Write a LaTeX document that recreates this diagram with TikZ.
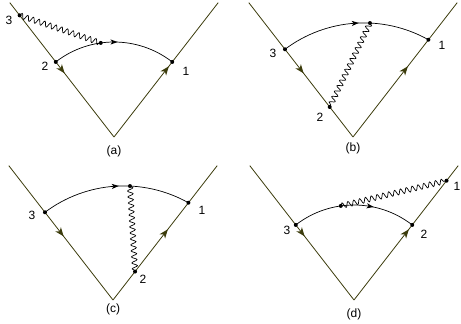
\documentclass[tikz,border=0pt]{standalone}
\usepackage{fontspec}
\setmainfont{Liberation Sans}
\usetikzlibrary{calc,decorations.pathmorphing,decorations.markings}
\definecolor{olivel}{RGB}{60,60,12}
\pgfdeclarelayer{bg}
\pgfsetlayers{bg,main}
\tikzset{
  leg/.style={draw=olivel, line width=0.8pt, postaction={decorate},
    decoration={markings, mark=at position 0.5 with {\fill[olivel] (4.5pt,0) -- (-4.5pt,3.5pt) -- (-2pt,0) -- (-4.5pt,-3.5pt) -- cycle;}}},
  fermarc/.style={draw=black, line width=0.7pt, postaction={decorate},
    decoration={markings, mark=at position #1 with {\fill[black] (3.5pt,0) -- (-3.5pt,2.6pt) -- (-1.7pt,0) -- (-3.5pt,-2.6pt) -- cycle;}}},
  photon/.style={draw=black, line width=0.7pt, decorate,
    decoration={snake, amplitude=2.7pt, segment length=6pt}},
  dotn/.style={circle, fill=black, inner sep=0pt, minimum size=4pt},
  lab/.style={font=\fontsize{12}{14}\selectfont, inner sep=0pt}
}
\begin{document}
\begin{tikzpicture}[x=1pt, y=1pt, yscale=-1]
\useasboundingbox (0,0) rectangle (461,324);
% ---------- (a)
\coordinate (A) at (114,137);
\coordinate (aL) at ($(A)+(-127.8:170)$);
\coordinate (aR) at ($(A)+(-52.2:170)$);
\node[dotn] (a3) at ($(A)+(-127.8:154)$) {};
\node[dotn] (a2) at ($(A)+(-127.8:95)$) {};
\node[dotn] (a1) at ($(A)+(-52.2:95)$) {};
\node[dotn] (ad) at ($(A)+(-98:95)$) {};
\begin{pgfonlayer}{bg}
\draw[leg] (aL) -- (A);
\draw[leg] (A) -- (aR);
\draw[fermarc=0.5] (a2.center) arc[start angle=-127.8, end angle=-52.2, radius=95];
\draw[photon] (a3.center) -- (ad.center);
\end{pgfonlayer}
\node[lab] (a3l) at (9,20) {3};
\node[lab] (a2l) at (45,66) {2};
\node[lab] (a1l) at (186,71) {1};
\node[lab] (acap) at (114,151) {(a)};
% ---------- (b)
\coordinate (B) at (353,137);
\coordinate (bL) at ($(B)+(-127.8:170)$);
\coordinate (bR) at ($(B)+(-52.2:170)$);
\coordinate (bC) at (364,154.5);
\node[dotn] (b3) at ($(bC)+(-126.9:131.6)$) {};
\node[dotn] (b1) at ($(bC)+(-60.7:131.6)$) {};
\node[dotn] (bd) at ($(bC)+(-87.4:131.6)$) {};
\node[dotn] (b2) at ($(B)+(-127.8:38)$) {};
\begin{pgfonlayer}{bg}
\draw[leg] (bL) -- (B);
\draw[leg] (B) -- (bR);
\draw[fermarc=0.5] (b3.center) arc[start angle=-126.9, end angle=-60.7, radius=131.6];
\draw[photon] (bd.center) -- (b2.center);
\end{pgfonlayer}
\node[lab] (b3l) at (273,53) {3};
\node[lab] (b2l) at (320,117) {2};
\node[lab] (b1l) at (442,45) {1};
\node[lab] (bcap) at (353,148) {(b)};
% ---------- (c)
\coordinate (Cc) at (113,300);
\coordinate (cL) at ($(Cc)+(-127.8:170)$);
\coordinate (cR) at ($(Cc)+(-52.2:170)$);
\coordinate (cC) at (124,317.5);
\node[dotn] (c3) at ($(cC)+(-126.9:131.6)$) {};
\node[dotn] (c1) at ($(cC)+(-60.7:131.6)$) {};
\node[dotn] (cd) at ($(cC)+(-87.4:131.6)$) {};
\node[dotn] (c2) at ($(Cc)+(-52.2:36)$) {};
\begin{pgfonlayer}{bg}
\draw[leg] (cL) -- (Cc);
\draw[leg] (Cc) -- (cR);
\draw[fermarc=0.5] (c3.center) arc[start angle=-126.9, end angle=-60.7, radius=131.6];
\draw[photon] (cd.center) -- (c2.center);
\end{pgfonlayer}
\node[lab] (c3l) at (32,215) {3};
\node[lab] (c2l) at (143,279) {2};
\node[lab] (c1l) at (202,210) {1};
\node[lab] (ccap) at (113,309) {(c)};
% ---------- (d)
\coordinate (D) at (354,300);
\coordinate (dL) at ($(D)+(-127.8:170)$);
\coordinate (dR) at ($(D)+(-52.2:170)$);
\node[dotn] (d3) at ($(D)+(-127.8:95)$) {};
\node[dotn] (d2) at ($(D)+(-52.2:95)$) {};
\node[dotn] (dd) at ($(D)+(-98:95)$) {};
\node[dotn] (d1) at ($(D)+(-52.2:151)$) {};
\begin{pgfonlayer}{bg}
\draw[leg] (dL) -- (D);
\draw[leg] (D) -- (dR);
\draw[fermarc=0.63] (d3.center) arc[start angle=-127.8, end angle=-52.2, radius=95];
\draw[photon] (dd.center) -- (d1.center);
\end{pgfonlayer}
\node[lab] (d3l) at (287,230) {3};
\node[lab] (d2l) at (424,234) {2};
\node[lab] (d1l) at (457,186) {1};
\node[lab] (dcap) at (354,314) {(d)};
\end{tikzpicture}
\end{document}
